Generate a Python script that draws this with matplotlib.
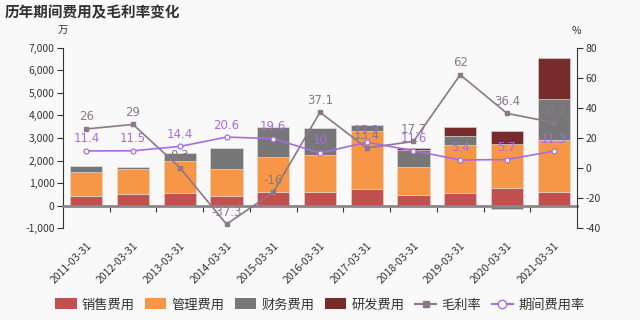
import matplotlib
matplotlib.use("Agg")
import matplotlib.pyplot as plt
from matplotlib.patches import Patch
from matplotlib.lines import Line2D
from matplotlib.ticker import FuncFormatter, MultipleLocator
import numpy as np

plt.rcParams['font.family'] = ['Noto Sans CJK SC', 'DejaVu Sans']
plt.rcParams['axes.unicode_minus'] = False

dates = ["2011-03-31", "2012-03-31", "2013-03-31", "2014-03-31", "2015-03-31",
         "2016-03-31", "2017-03-31", "2018-03-31", "2019-03-31", "2020-03-31", "2021-03-31"]
sales = [443, 518, 549, 443, 620, 625, 726, 474, 549, 798, 607]
admin = [1037, 1120, 1417, 1168, 1538, 1620, 2584, 1254, 2140, 1922, 2290]
finance = [265, 75, 382, 945, 1342, 1185, 279, 740, 399, -130, 1830]
rnd = [0, 0, 0, 0, 0, 0, 0, 102, 412, 590, 1803]
gross_margin = [26, 29, 0.3, -37.3, -16, 37.1, 13.4, 17.7, 62, 36.4, 30.2]
period_rate = [11.4, 11.5, 14.4, 20.6, 19.6, 10, 17.2, 11.6, 5.4, 5.7, 11.3]

series_names = ["销售费用", "管理费用", "财务费用", "研发费用"]
series_colors = ["#c1504f", "#f79646", "#777777", "#772b2a"]
gm_color = "#8b7888"
pr_color = "#a66ce4"
bg = "#f9f9f9"

fig = plt.figure(figsize=(6.4, 3.2), dpi=100, facecolor=bg)
ax = fig.add_axes([63/640, 1 - 228.3/320, (577-63)/640, (228.3-47.7)/320])
ax.set_facecolor(bg)
ax2 = ax.twinx()

n = len(dates)
x = np.arange(n)
pos_base = np.zeros(n)
neg_base = np.zeros(n)
for vals, col in zip([sales, admin, finance, rnd], series_colors):
    v = np.array(vals, dtype=float)
    bottoms = np.where(v >= 0, pos_base, neg_base)
    ax.bar(x, v, bottom=bottoms, width=0.69, color=col, edgecolor='#dddddd', linewidth=0.4, zorder=2)
    pos_base += np.where(v >= 0, v, 0)
    neg_base += np.where(v < 0, v, 0)

ax.set_xlim(-0.5, n - 0.5)
ax.set_ylim(-1000, 7000)
ax.yaxis.set_major_locator(MultipleLocator(1000))
ax.yaxis.set_major_formatter(FuncFormatter(lambda v, p: f"{int(v):,}"))
ax.tick_params(axis='y', labelsize=7.5, colors='#333333', length=4, width=0.8, pad=2)

# x axis line at zero with boundary ticks
ax.spines['bottom'].set_position(('data', 0))
ax.spines['bottom'].set_color('#888888')
ax.spines['bottom'].set_linewidth(2)
ax.spines['bottom'].set_zorder(3)
ax.set_xticks(np.arange(0.5, n - 1, 1.0))
ax.set_xticklabels([])
ax.tick_params(axis='x', length=4, width=0.8, color='#333333', direction='out')
ax.spines['top'].set_visible(False)
ax.spines['right'].set_visible(False)
ax.spines['left'].set_color('#333333')

# date labels on a secondary axis at the bottom
sec = ax.secondary_xaxis('bottom')
sec.set_xticks(x)
sec.set_xticklabels(dates, rotation=45, ha='right', rotation_mode='anchor', fontsize=7.5, color='#333333')
sec.tick_params(length=0, pad=9)
sec.spines['bottom'].set_visible(False)

ax2.set_ylim(-40, 80)
ax2.yaxis.set_major_locator(MultipleLocator(20))
ax2.tick_params(axis='y', labelsize=7.5, colors='#333333', length=4, width=0.8, pad=2)
for s in ['top', 'left', 'bottom']:
    ax2.spines[s].set_visible(False)
ax2.spines['right'].set_color('#333333')

ax2.plot(x, gross_margin, color=gm_color, lw=1.2, marker='s', ms=3, zorder=4)
ax2.plot(x, period_rate, color=pr_color, lw=1.2, marker='o', ms=3.5, mfc='white', mec=pr_color, mew=0.9, zorder=5)
for xi, v in zip(x, gross_margin):
    ax2.annotate(f"{v:g}", (xi, v), xytext=(0, 4), textcoords='offset points', ha='center', va='bottom',
                 fontsize=8.5, color=gm_color, family=['DejaVu Sans'])
for xi, v in zip(x, period_rate):
    ax2.annotate(f"{v:g}", (xi, v), xytext=(0, 4), textcoords='offset points', ha='center', va='bottom',
                 fontsize=8.5, color=pr_color, family=['DejaVu Sans'])

fig.text(5/640, 1 - 12/320, "历年期间费用及毛利率变化", fontsize=10.5, fontweight='bold', color='#333333', va='center', ha='left')
fig.text(63/640, 1 - 31/320, "万", fontsize=7.5, color='#333333', va='center', ha='center')
fig.text(576/640, 1 - 31/320, "%", fontsize=7.5, color='#333333', va='center', ha='center')

handles = [Patch(facecolor=c, edgecolor='none') for c in series_colors]
handles.append(Line2D([0], [0], color=gm_color, lw=1.5, marker='s', ms=5))
handles.append(Line2D([0], [0], color=pr_color, lw=1.5, marker='o', ms=6, mfc='white', mec=pr_color))
labels = series_names + ["毛利率", "期间费用率"]
fig.legend(handles, labels, loc='center', bbox_to_anchor=(0.5, 1 - 305/320), ncol=6, frameon=False,
           fontsize=9.5, handlelength=1.6, handleheight=0.9, handletextpad=0.4, columnspacing=0.8,
           labelcolor='#333333')

fig.savefig("out.png", dpi=100, facecolor=bg)
